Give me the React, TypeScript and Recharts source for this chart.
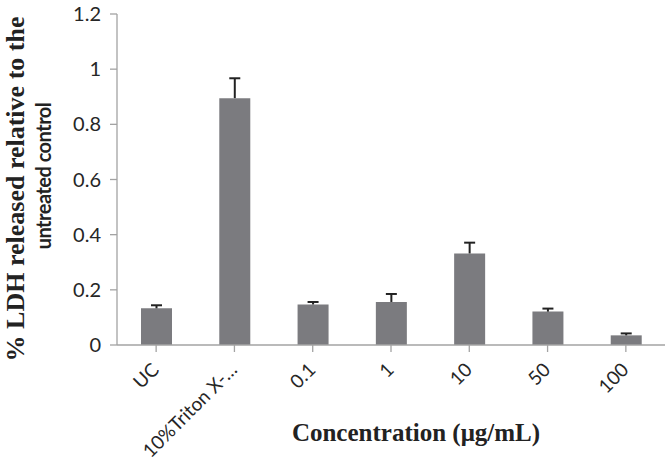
import { BarChart, Bar, XAxis, YAxis, Rectangle } from 'recharts'

// Values
const categories = ['UC', '10%Triton X-…', '0.1', '1', '10', '50', '100']
const ldhValues = [0.133, 0.895, 0.147, 0.156, 0.332, 0.121, 0.035]
const ldhErrors = [0.011, 0.072, 0.009, 0.029, 0.039, 0.011, 0.007]
const yTicks = [0, 0.2, 0.4, 0.6, 0.8, 1, 1.2]

const data = categories.map((name, i) => ({
  name,
  value: ldhValues[i],
  err: ldhErrors[i],
}))

const BAR_COLOR = '#7b7b7f'
const AXIS_COLOR = '#a3a3a3'
const TICK_FONT = 'Lato, "Open Sans", sans-serif'
const SERIF = '"Liberation Serif", "Times New Roman", serif'

// Bar with an upward-only error bar, scaled from the bar's own pixel height
const BarWithError = (props: any) => {
  const { x, y, width, height, payload } = props
  const pxPerUnit = payload.value ? height / payload.value : 0
  const errPx = payload.err * pxPerUnit
  const cx = x + width / 2
  return (
    <g>
      <Rectangle x={x} y={y} width={width} height={height} fill={BAR_COLOR} />
      <line x1={cx} y1={y} x2={cx} y2={y - errPx} stroke="#222" strokeWidth={2} />
      <line x1={cx - 5.5} y1={y - errPx} x2={cx + 5.5} y2={y - errPx} stroke="#222" strokeWidth={2} />
    </g>
  )
}

const XTick = ({ x, y, payload }: any) => (
  <text
    x={x + 4}
    y={y + 17}
    transform={`rotate(-45, ${x + 4}, ${y + 17})`}
    textAnchor="end"
    fontFamily={TICK_FONT}
    fontSize={19}
    fill="#262626"
  >
    {payload.value}
  </text>
)

const YTick = ({ x, y, payload }: any) => (
  <text
    x={x}
    y={y}
    dy={7}
    textAnchor="end"
    fontFamily={TICK_FONT}
    fontSize={20}
    fill="#262626"
  >
    {payload.value}
  </text>
)

const YTitle = () => (
  <g>
    <text
      x={24}
      y={189}
      transform="rotate(-90, 24, 189)"
      textAnchor="middle"
      fontFamily={SERIF}
      fontWeight="bold"
      fontSize={26}
      fill="#222"
    >
      % LDH released relative to the
    </text>
    <text
      x={51}
      y={176}
      transform="rotate(-90, 51, 176)"
      textAnchor="middle"
      fontFamily={TICK_FONT}
      fontWeight="bold"
      fontSize={20}
      letterSpacing={-0.5}
      fill="#222"
    >
      untreated control
    </text>
  </g>
)

export default function App() {
  return (
    <div style={{ position: 'absolute', left: 0, top: 0, width: 666, height: 461, background: '#fff' }}>
      <BarChart
        width={666}
        height={461}
        data={data}
        margin={{ top: 14, right: 1, bottom: 0, left: 0 }}
      >
        <XAxis
          dataKey="name"
          height={116}
          interval={0}
          stroke={AXIS_COLOR}
          strokeWidth={1.3}
          tickSize={7}
          tick={<XTick />}
          label={{
            value: 'Concentration (μg/mL)',
            position: 'insideBottom',
            offset: 20,
            dx: 25,
            fontFamily: SERIF,
            fontWeight: 'bold',
            fontSize: 25,
            fill: '#222',
          }}
        />
        <YAxis
          width={117}
          domain={[0, 1.2]}
          ticks={yTicks}
          interval={0}
          stroke={AXIS_COLOR}
          strokeWidth={1.3}
          tickSize={7}
          tickMargin={9}
          tick={<YTick />}
          label={<YTitle />}
        />
        <Bar dataKey="value" barSize={31} shape={<BarWithError />} isAnimationActive={false} />
      </BarChart>
    </div>
  )
}
